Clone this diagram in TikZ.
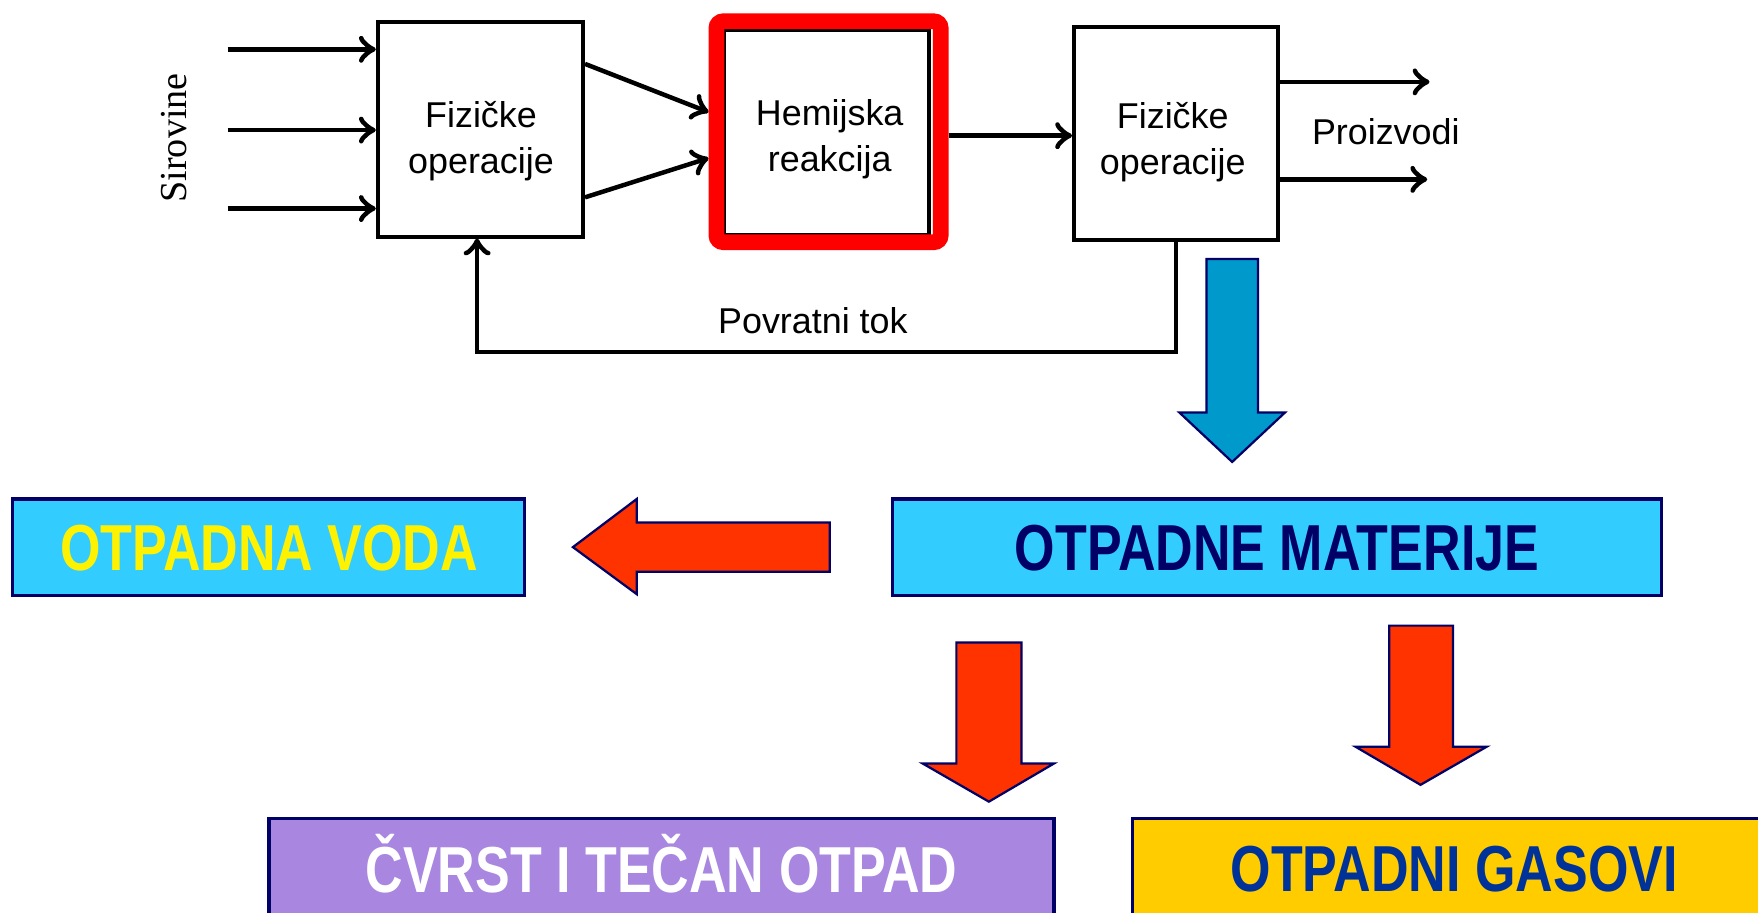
\documentclass[tikz,border=0pt]{standalone}
\usepackage{fontspec}
\setmainfont{Liberation Sans}
\newfontfamily\serifface{Liberation Serif}
\newfontfamily\narrowface[FakeStretch=0.8]{Liberation Sans}
\usetikzlibrary{arrows.meta,calc}
\definecolor{navy}{HTML}{000066}
\definecolor{lblue}{HTML}{33CCFF}
\definecolor{ared}{HTML}{FF3300}
\definecolor{ablue}{HTML}{0099CC}
\definecolor{violetbox}{HTML}{A986DF}
\definecolor{goldbox}{HTML}{FFCC00}
\definecolor{gastext}{HTML}{003399}
\tikzset{
  opbox/.style={draw=black, line width=3.6pt, fill=white, inner sep=0pt},
  arr/.style={line width=4pt, -{Classical TikZ Rightarrow[length=15pt,width=24pt,line width=4pt]}},
  lbl/.style={font=\fontsize{32}{41}\selectfont, inner sep=0pt, align=center},
  bigbox/.style={draw=navy, line width=3pt, inner sep=0pt},
  bigtxt/.style={font=\narrowface\bfseries\fontsize{58}{60}\selectfont, inner sep=0pt},
  blockarrow/.style={draw=navy, line width=2pt, line join=miter},
}
\begin{document}
\begin{tikzpicture}[x=1pt,y=-1pt]
\useasboundingbox (0,0) rectangle (1568,814);
\clip (0,0) rectangle (1568,814);
\fill[white] (0,0) rectangle (1568,814);

% top process diagram
\node[opbox, minimum width=183pt, minimum height=191pt] (box1) at (428.5,115.5) {};
\node[lbl] (box1t) at (429,126) {Fizičke\\operacije};
\node[opbox, minimum width=183pt, minimum height=183pt] (chem) at (737.5,118.5) {};
\node[lbl] (chemt) at (740,124) {Hemijska\\reakcija};
\node[draw=red, line width=14pt, rounded corners=6pt, minimum width=200pt, minimum height=197pt, inner sep=0pt] (frame) at (739,117.5) {};
\node[opbox, minimum width=182pt, minimum height=190pt] (box3) at (1049,119) {};
\node[lbl] (box3t) at (1046,127) {Fizičke\\operacije};

\node[font=\serifface\fontsize{34}{40}\selectfont, rotate=90, inner sep=0pt] (sir) at (155,123) {Sirovine};

\coordinate (in1) at (203,44);
\coordinate (in2) at (203,116);
\coordinate (in3) at (203,186);
\draw[arr] (in1) -- (in1 -| box1.west);
\draw[arr] (in2) -- (in2 -| box1.west);
\draw[arr] (in3) -- (in3 -| box1.west);

\draw[arr] ($(box1.east)+(0,-58.5)$) -- ($(frame.west)+(0,-17.5)$);
\draw[arr] ($(box1.east)+(0,60.5)$) -- ($(frame.west)+(0,23.5)$);
\draw[arr] (frame.east |- 0,121) -- (box3.west |- 0,121);

\coordinate (out1) at (1275,73);
\coordinate (out2) at (1273,160);
\draw[arr] (box3.east |- out1) -- (out1);
\draw[arr] (box3.east |- out2) -- (out2);
\node[lbl] (proiz) at (1236,117) {Proizvodi};

\draw[arr] (box3.south) -- ++(0,98) -| ($(box1.south)+(-3,0)$);
\node[lbl] (povr) at (725,286) {Povratni tok};

% blue block arrow
\draw[blockarrow, fill=ablue] (1076,231) -- (1122,231) -- (1122,368) -- (1146,368) -- (1099,412) -- (1052,368) -- (1076,368) -- cycle;

% bottom boxes
\node[bigbox, fill=lblue, minimum width=457pt, minimum height=86pt] (voda) at (239.5,488) {};
\node[bigtxt, text=yellow] (vodat) at (240,489) {OTPADNA VODA};
\node[bigbox, fill=lblue, minimum width=686pt, minimum height=86pt] (mat) at (1139,488) {};
\node[bigtxt, text=navy] (matt) at (1139,489) {OTPADNE MATERIJE};

\node[bigbox, fill=violetbox, minimum width=700pt, minimum height=120pt] (cvrst) at (590,790) {};
\node[bigtxt, text=white] (cvrstt) at (590,770) {ČVRST I TEČAN OTPAD};
\node[bigbox, fill=goldbox, minimum width=700pt, minimum height=120pt] (gas) at (1360,790) {};
\node[bigtxt, text=gastext] (gast) at (1297,775) {OTPADNI GASOVI};

% red block arrows
\draw[blockarrow, fill=ared] (740,466) -- (740,510) -- (568,510) -- (568,530) -- (511,488) -- (568,445) -- (568,466) -- cycle;
\draw[blockarrow, fill=ared] (853,573) -- (911,573) -- (911,681) -- (940,681) -- (882,715) -- (823,681) -- (853,681) -- cycle;
\draw[blockarrow, fill=ared] (1239,558) -- (1296,558) -- (1296,666) -- (1326,666) -- (1267,700) -- (1209,666) -- (1239,666) -- cycle;
\end{tikzpicture}
\end{document}
